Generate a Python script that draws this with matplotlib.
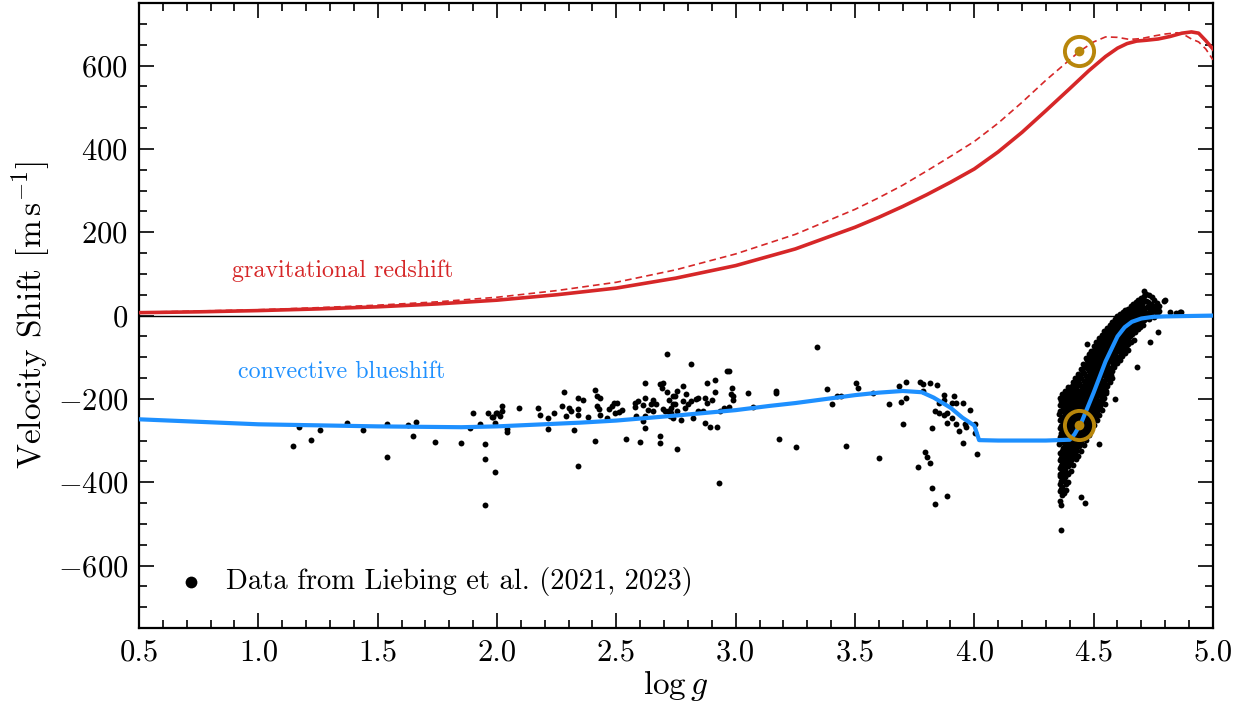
import matplotlib
matplotlib.use("Agg")
import matplotlib.pyplot as plt
from matplotlib.ticker import MultipleLocator, FormatStrFormatter

plt.rcParams['font.family'] = ['cmr10', 'DejaVu Serif']
plt.rcParams['mathtext.fontset'] = 'cm'
plt.rcParams['axes.formatter.use_mathtext'] = True

# gravitational redshift (solid and dashed models)
red_solid_logg = [0.5, 0.75, 1.0, 1.25, 1.5, 1.75, 2.0, 2.25, 2.5, 2.75, 3.0, 3.25, 3.5, 3.6,
                  3.7, 3.8, 3.9, 4.0, 4.1, 4.2, 4.3, 4.4, 4.48, 4.55, 4.6, 4.64, 4.68, 4.72,
                  4.77, 4.82, 4.87, 4.91, 4.94, 4.97, 5.0]
red_solid_v = [7, 9, 12, 16, 21, 28, 37, 50, 66, 90, 120, 160, 212, 236,
               262, 290, 320, 352, 393, 440, 492, 545, 588, 622, 642, 653, 659, 661,
               664, 670, 678, 681, 678, 660, 640]
red_dash_logg = [0.5, 0.75, 1.0, 1.25, 1.5, 1.75, 2.0, 2.25, 2.5, 2.75, 3.0, 3.25, 3.5, 3.6,
                 3.7, 3.8, 3.9, 4.0, 4.1, 4.2, 4.3, 4.44, 4.5, 4.55, 4.6, 4.65, 4.7, 4.75,
                 4.8, 4.85, 4.88, 4.91, 4.94, 4.97, 5.0]
red_dash_v = [8, 11, 14, 19, 25, 33, 44, 60, 80, 110, 148, 195, 255, 283,
              313, 347, 382, 418, 462, 512, 565, 634, 657, 669, 668, 663, 665, 671,
              676, 679, 674, 664, 657, 640, 614]

# convective blueshift model
blue_logg = [0.5, 1.0, 1.5, 1.85, 2.0, 2.35, 2.5, 2.75, 3.0, 3.14, 3.25, 3.5, 3.6, 3.7,
             3.78, 3.83, 3.9, 3.95, 4.0, 4.02, 4.1, 4.2, 4.3, 4.4, 4.42, 4.45, 4.5,
             4.55, 4.6, 4.63, 4.66, 4.7, 4.75, 4.8, 4.9, 5.0]
blue_v = [-249, -261, -266, -268, -266, -257, -252, -240, -227, -217, -210, -191, -185, -181,
          -184, -197, -221, -245, -264, -299, -300, -300, -300, -298, -285, -255, -185,
          -110, -50, -28, -15, -7, -3, -2, -1, 0]

# Sun
sun_logg = [4.438, 4.438]
sun_v = [634, -262]

# Liebing et al. giants
giants_logg = [1.146, 1.169, 1.219, 1.258, 1.370, 1.440, 1.538, 1.538, 1.628, 1.649, 1.659,
               1.739, 1.850, 1.887, 1.898, 1.929, 1.951, 1.951, 1.961, 1.979, 1.990, 1.990,
               1.951, 1.999, 1.982, 1.996, 2.012, 2.021, 2.021, 2.041, 2.041, 2.091, 2.172,
               2.181, 2.212, 2.212, 2.239, 2.271, 2.281, 2.290, 2.300, 2.311, 2.321, 2.339,
               2.339, 2.339, 2.362, 2.341, 2.381, 2.412, 2.412, 2.420, 2.420, 2.426, 2.431,
               2.431, 2.459, 2.470, 2.480, 2.490, 2.501, 2.493, 2.512, 2.522, 2.540, 2.579,
               2.579, 2.581, 2.591, 2.600, 2.610, 2.613, 2.620, 2.621, 2.621, 2.621, 2.632,
               2.644, 2.652, 2.655, 2.666, 2.681, 2.681, 2.681, 2.690, 2.697, 2.694, 2.703,
               2.712, 2.713, 2.718, 2.722, 2.728, 2.739, 2.746, 2.753, 2.753, 2.753, 2.731,
               2.739, 2.725, 2.739, 2.745, 2.772, 2.781, 2.781, 2.788, 2.792, 2.802, 2.812,
               2.812, 2.823, 2.834, 2.843, 2.843, 2.862, 2.871, 2.871, 2.881, 2.881, 2.892,
               2.902, 2.912, 2.912, 2.923, 2.931, 2.934, 2.951, 2.962, 2.973, 2.973, 2.979,
               2.983, 2.987, 2.990, 3.050, 3.071, 3.171, 3.171, 3.181, 3.253, 3.342, 3.381,
               3.404, 3.423, 3.440, 3.462, 3.504, 3.514, 3.574, 3.602, 3.644, 3.683, 3.693,
               3.702, 3.714, 3.714, 3.764, 3.772, 3.784, 3.784, 3.793, 3.803, 3.814, 3.814,
               3.824, 3.824, 3.834, 3.834, 3.843, 3.853, 3.853, 3.874, 3.874, 3.874, 3.884,
               3.884, 3.884, 3.905, 3.905, 3.915, 3.923, 3.923, 3.934, 3.953, 3.953, 3.962,
               3.965, 3.983, 4.004, 4.001, 4.013]
giants_v = [-314, -267, -299, -275, -259, -275, -261, -340, -263, -290, -256,
            -303, -306, -271, -235, -261, -308, -345, -235, -243, -259, -376,
            -455, -235, -243, -233, -241, -218, -229, -273, -279, -221, -222,
            -238, -247, -273, -234, -218, -183, -241, -223, -230, -275, -198,
            -225, -239, -202, -361, -244, -178, -300, -194, -218, -225, -198,
            -239, -245, -225, -217, -209, -210, -234, -231, -227, -296, -210,
            -219, -241, -206, -303, -253, -214, -161, -198, -241, -270, -227,
            -213, -202, -228, -213, -165, -288, -307, -173, -163, -225, -229,
            -92, -184, -229, -203, -221, -193, -213, -181, -321, -229, -233,
            -245, -241, -213, -193, -251, -169, -205, -221, -189, -213, -116,
            -205, -245, -201, -197, -229, -229, -198, -257, -163, -209, -267,
            -202, -155, -183, -267, -403, -230, -222, -133, -133, -219, -189,
            -175, -203, -193, -186, -219, -181, -186, -296, -315, -76, -176,
            -212, -193, -193, -312, -161, -173, -186, -343, -212, -169, -208,
            -261, -160, -198, -364, -160, -165, -181, -327, -340, -163, -355,
            -270, -413, -230, -452, -166, -211, -235, -191, -202, -239, -234,
            -259, -434, -210, -247, -194, -210, -261, -277, -211, -305, -261,
            -267, -227, -260, -282, -333]

# Liebing et al. dwarfs (dense cluster near the Sun), one line per strip of log g
dwarfs_logg = [
    4.357, 4.359, 4.356, 4.358, 4.357, 4.359, 4.356, 4.358, 4.357, 4.359, 4.357, 4.358, 4.360, 4.358,
    4.369, 4.366, 4.370, 4.367, 4.369, 4.365, 4.368, 4.371, 4.366, 4.369, 4.367, 4.370, 4.366, 4.368,
    4.380, 4.377, 4.381, 4.378, 4.380, 4.376, 4.382, 4.378, 4.380, 4.377, 4.381, 4.379, 4.384,
    4.391, 4.388, 4.392, 4.389, 4.391, 4.387, 4.393, 4.389, 4.391, 4.388, 4.392, 4.394,
    4.402, 4.399, 4.403, 4.400, 4.402, 4.398, 4.404, 4.400, 4.402, 4.399, 4.405,
    4.413, 4.410, 4.414, 4.411, 4.413, 4.409, 4.415, 4.411, 4.413, 4.410, 4.414,
    4.424, 4.421, 4.425, 4.422, 4.424, 4.420, 4.426, 4.422, 4.424, 4.421, 4.425,
    4.435, 4.432, 4.436, 4.433, 4.435, 4.431, 4.437, 4.433, 4.435, 4.432, 4.436,
    4.446, 4.443, 4.447, 4.444, 4.446, 4.442, 4.448, 4.444, 4.446, 4.443, 4.447,
    4.457, 4.454, 4.458, 4.455, 4.457, 4.453, 4.459, 4.455, 4.457, 4.454, 4.458,
    4.468, 4.465, 4.469, 4.466, 4.468, 4.464, 4.470, 4.466, 4.468, 4.465, 4.469,
    4.479, 4.476, 4.480, 4.477, 4.479, 4.475, 4.481, 4.477, 4.479, 4.476, 4.480,
    4.490, 4.487, 4.491, 4.488, 4.490, 4.486, 4.492, 4.488, 4.490, 4.487, 4.491,
    4.501, 4.498, 4.502, 4.499, 4.501, 4.497, 4.503, 4.499, 4.501, 4.498, 4.502,
    4.512, 4.509, 4.513, 4.510, 4.512, 4.508, 4.514, 4.510, 4.512, 4.509, 4.513,
    4.523, 4.520, 4.524, 4.521, 4.523, 4.519, 4.525, 4.521, 4.523, 4.520, 4.524,
    4.534, 4.531, 4.535, 4.532, 4.534, 4.530, 4.536, 4.532, 4.534, 4.531, 4.535,
    4.545, 4.542, 4.546, 4.543, 4.545, 4.541, 4.547, 4.543, 4.545, 4.542, 4.546,
    4.556, 4.553, 4.557, 4.554, 4.556, 4.552, 4.558, 4.554, 4.556, 4.553,
    4.567, 4.564, 4.568, 4.565, 4.567, 4.563, 4.569, 4.565, 4.567,
    4.578, 4.575, 4.579, 4.576, 4.578, 4.574, 4.580, 4.576, 4.578,
    4.589, 4.586, 4.590, 4.587, 4.589, 4.585, 4.591, 4.587,
    4.600, 4.597, 4.601, 4.598, 4.600, 4.596, 4.602, 4.598,
    4.611, 4.608, 4.612, 4.609, 4.611, 4.607, 4.613, 4.609,
    4.622, 4.619, 4.623, 4.620, 4.622, 4.618, 4.624, 4.620,
    4.633, 4.630, 4.634, 4.631, 4.633, 4.629, 4.635, 4.631,
    4.644, 4.641, 4.645, 4.642, 4.644, 4.640, 4.646, 4.642,
    4.655, 4.652, 4.656, 4.653, 4.655, 4.651, 4.657,
    4.666, 4.663, 4.667, 4.664, 4.666, 4.662, 4.668,
    4.677, 4.674, 4.678, 4.675, 4.677, 4.673,
    4.688, 4.685, 4.689, 4.686, 4.688, 4.684,
    4.699, 4.696, 4.700, 4.697, 4.699, 4.695,
    4.710, 4.707, 4.711, 4.708, 4.710, 4.706,
    4.721, 4.718, 4.722, 4.719, 4.721,
    4.732, 4.729, 4.733, 4.730, 4.732,
    4.743, 4.740, 4.744, 4.741,
    4.754, 4.751, 4.755, 4.752,
    4.765, 4.762, 4.766,
    4.776, 4.773,
    4.770, 4.794, 4.800, 4.820, 4.845, 4.862, 4.866, 4.364, 4.445, 4.462, 4.473, 4.711,
    4.523, 4.589, 4.683, 4.736, 4.384, 4.375, 4.392, 4.362]
dwarfs_v = [
    -198, -214, -236, -251, -270, -292, -309, -331, -347, -366, -384, -405, -421, -444,
    -188, -207, -225, -244, -262, -281, -300, -318, -337, -356, -374, -393, -412, -431,
    -182, -203, -219, -240, -258, -276, -295, -314, -332, -349, -370, -388, -404,
    -172, -195, -212, -233, -250, -269, -289, -306, -325, -344, -362, -380,
    -178, -199, -218, -237, -256, -276, -293, -313, -334, -352, -373,
    -160, -183, -204, -222, -243, -262, -281, -300, -321, -340, -358,
    -150, -170, -191, -210, -229, -250, -268, -289, -306, -327, -345,
    -140, -161, -180, -201, -219, -239, -258, -277, -298, -316, -336,
    -128, -150, -168, -190, -208, -228, -247, -266, -285, -305, -324,
    -116, -137, -158, -177, -197, -216, -235, -255, -274, -293, -311,
    -102, -124, -146, -165, -185, -204, -224, -243, -262, -281, -298,
    -92, -113, -133, -154, -172, -192, -212, -231, -250, -268, -287,
    -84, -103, -122, -142, -161, -180, -200, -219, -238, -256, -273,
    -72, -93, -112, -131, -150, -170, -189, -207, -226, -245, -262,
    -63, -82, -101, -120, -139, -158, -177, -196, -215, -233, -250,
    -55, -73, -92, -110, -129, -148, -166, -185, -204, -222, -238,
    -46, -64, -82, -100, -119, -137, -156, -174, -192, -210, -226,
    -38, -56, -73, -91, -109, -127, -145, -163, -181, -198, -213,
    -30, -47, -64, -82, -100, -117, -135, -152, -170, -186,
    -22, -39, -56, -73, -90, -108, -125, -142, -160,
    -15, -32, -48, -65, -82, -99, -116, -133, -150,
    -9, -25, -41, -58, -74, -91, -107, -124,
    -2, -18, -34, -50, -66, -83, -99, -115,
    4, -11, -27, -43, -59, -75, -91, -106,
    9, -5, -21, -36, -52, -68, -83, -98,
    13, -1, -15, -30, -45, -60, -76, -90,
    17, 3, -11, -25, -39, -54, -69, -83,
    22, 7, -7, -21, -35, -49, -63,
    27, 12, -3, -17, -31, -45, -58,
    32, 17, 2, -12, -26, -40,
    38, 22, 7, -7, -21, -33,
    43, 27, 12, -2, -16, -28,
    48, 32, 17, 3, -10, -22,
    53, 36, 21, 7, -6,
    49, 33, 19, 5, -8,
    44, 29, 15, 2,
    38, 23, 10, -4,
    31, 17, 4,
    24, 10,
    -39, 36, 38, 8, 5, 8, 8, -514, -436, -449, -68, 60,
    -309, -200, -123, -64, -418, -425, -400, -455]

# Liebing et al. dwarfs, the densest core of the cluster (between the strips above)
dwarfs_core_logg = [
    4.364, 4.361, 4.365, 4.362, 4.364, 4.360, 4.366, 4.362, 4.364, 4.361, 4.365, 4.363,
    4.375, 4.372, 4.376, 4.373, 4.375, 4.371, 4.377, 4.373, 4.375, 4.372, 4.376, 4.374,
    4.386, 4.383, 4.387, 4.384, 4.386, 4.382, 4.388, 4.384, 4.386, 4.383, 4.387,
    4.397, 4.394, 4.398, 4.395, 4.397, 4.393, 4.399, 4.395, 4.397, 4.394,
    4.408, 4.405, 4.409, 4.406, 4.408, 4.404, 4.410, 4.406, 4.408, 4.405,
    4.419, 4.416, 4.420, 4.417, 4.419, 4.415, 4.421, 4.417, 4.419, 4.416,
    4.430, 4.427, 4.431, 4.428, 4.430, 4.426, 4.432, 4.428, 4.430, 4.427,
    4.441, 4.438, 4.442, 4.439, 4.441, 4.437, 4.443, 4.439, 4.441, 4.438,
    4.452, 4.449, 4.453, 4.450, 4.452, 4.448, 4.454, 4.450, 4.452, 4.449,
    4.463, 4.460, 4.464, 4.461, 4.463, 4.459, 4.465, 4.461, 4.463, 4.460,
    4.474, 4.471, 4.475, 4.472, 4.474, 4.470, 4.476, 4.472, 4.474, 4.471,
    4.485, 4.482, 4.486, 4.483, 4.485, 4.481, 4.487, 4.483, 4.485, 4.482,
    4.496, 4.493, 4.497, 4.494, 4.496, 4.492, 4.498, 4.494, 4.496, 4.493,
    4.507, 4.504, 4.508, 4.505, 4.507, 4.503, 4.509, 4.505, 4.507, 4.504,
    4.518, 4.515, 4.519, 4.516, 4.518, 4.514, 4.520, 4.516, 4.518, 4.515,
    4.529, 4.526, 4.530, 4.527, 4.529, 4.525, 4.531, 4.527, 4.529, 4.526,
    4.540, 4.537, 4.541, 4.538, 4.540, 4.536, 4.542, 4.538, 4.540, 4.537,
    4.551, 4.548, 4.552, 4.549, 4.551, 4.547, 4.553, 4.549, 4.551,
    4.562, 4.559, 4.563, 4.560, 4.562, 4.558, 4.564, 4.560,
    4.573, 4.570, 4.574, 4.571, 4.573, 4.569, 4.575, 4.571,
    4.584, 4.581, 4.585, 4.582, 4.584, 4.580, 4.586,
    4.595, 4.592, 4.596, 4.593, 4.595, 4.591, 4.597,
    4.606, 4.603, 4.607, 4.604, 4.606, 4.602, 4.608,
    4.617, 4.614, 4.618, 4.615, 4.617, 4.613, 4.619,
    4.628, 4.625, 4.629, 4.626, 4.628, 4.624, 4.630,
    4.639, 4.636, 4.640, 4.637, 4.639, 4.635,
    4.650, 4.647, 4.651, 4.648, 4.650, 4.646,
    4.661, 4.658, 4.662, 4.659, 4.661,
    4.672, 4.669, 4.673, 4.670, 4.672,
    4.683, 4.680, 4.684, 4.681,
    4.694, 4.691, 4.695, 4.692,
    4.705, 4.702, 4.706, 4.703]
dwarfs_core_v = [
    -205, -228, -248, -266, -286, -304, -324, -342, -361, -380, -398, -416,
    -196, -214, -232, -250, -268, -288, -306, -325, -343, -362, -381, -398,
    -190, -210, -229, -248, -267, -286, -304, -323, -341, -360, -378,
    -186, -206, -224, -245, -263, -282, -300, -319, -338, -356,
    -170, -192, -212, -232, -251, -270, -290, -309, -328, -347,
    -163, -182, -200, -219, -239, -258, -276, -296, -315, -334,
    -153, -172, -190, -209, -229, -248, -267, -286, -305, -324,
    -142, -161, -180, -199, -218, -237, -256, -275, -294, -312,
    -130, -149, -168, -187, -206, -225, -244, -263, -282, -300,
    -118, -137, -156, -175, -194, -213, -232, -251, -270, -288,
    -106, -125, -144, -163, -182, -201, -220, -239, -258, -276,
    -96, -114, -132, -151, -170, -189, -208, -227, -245, -263,
    -86, -104, -122, -141, -160, -179, -197, -216, -235, -252,
    -76, -94, -112, -130, -149, -167, -186, -204, -223, -240,
    -67, -85, -103, -121, -139, -157, -175, -194, -212, -229,
    -58, -76, -94, -112, -130, -148, -166, -184, -202, -218,
    -50, -67, -85, -103, -121, -139, -156, -174, -191, -206,
    -42, -59, -77, -94, -112, -129, -146, -164, -180,
    -34, -51, -68, -85, -102, -119, -136, -153,
    -26, -43, -60, -77, -94, -110, -127, -143,
    -19, -35, -52, -68, -85, -101, -118,
    -12, -28, -44, -61, -77, -93, -109,
    -6, -22, -38, -54, -70, -86, -101,
    0, -16, -32, -47, -63, -79, -93,
    5, -10, -25, -41, -56, -71, -86,
    10, -5, -20, -35, -50, -65,
    14, 0, -14, -28, -43, -57,
    19, 4, -10, -24, -38,
    24, 9, -5, -19, -33,
    29, 14, 0, -14,
    34, 19, 4, -10,
    40, 24, 9, -5]

RED = '#d62728'
BLUE = '#1e90ff'
GOLD = '#b8860b'

fig = plt.figure(figsize=(12.47, 7.06), dpi=100)
ax = fig.add_axes([0.1115, 0.1105, 0.8612, 0.885])

ax.axhline(0, color='black', lw=1.0, zorder=1)
ax.scatter(giants_logg + dwarfs_logg + dwarfs_core_logg,
           giants_v + dwarfs_v + dwarfs_core_v, s=18, color='black',
           lw=0, zorder=2, label='Data from Liebing et al. (2021, 2023)')
ax.plot(red_solid_logg, red_solid_v, color=RED, lw=2.6, zorder=3)
ax.plot(red_dash_logg, red_dash_v, color=RED, lw=1.2, ls=(0, (4, 2.5)), zorder=3)
ax.plot(blue_logg, blue_v, color=BLUE, lw=3.0, zorder=4)
ax.plot(sun_logg, sun_v, ls='none', marker='o', ms=21, mfc='none', mec=GOLD, mew=2.8, zorder=5)
ax.plot(sun_logg, sun_v, ls='none', marker='o', ms=6, color=GOLD, zorder=5)

ax.text(0.89, 108, 'gravitational redshift', color=RED, fontsize=17.3, va='center')
ax.text(0.915, -135, 'convective blueshift', color=BLUE, fontsize=17.3, va='center')

ax.set_xlim(0.5, 5.0)
ax.set_ylim(-750, 750)
ax.xaxis.set_major_locator(MultipleLocator(0.5))
ax.xaxis.set_minor_locator(MultipleLocator(0.1))
ax.yaxis.set_major_locator(MultipleLocator(200))
ax.yaxis.set_minor_locator(MultipleLocator(50))
ax.xaxis.set_major_formatter(FormatStrFormatter('%.1f'))
ax.tick_params(which='both', direction='in', top=True, right=True, labelsize=22, width=1.2)
ax.tick_params(which='major', length=11, pad=8)
ax.tick_params(which='minor', length=5.5)
for sp in ax.spines.values():
    sp.set_linewidth(1.6)

ax.set_xlabel(r'$\log g$', fontsize=24, labelpad=1)
ax.set_ylabel(r'Velocity Shift [$\mathrm{m\,s^{-1}}$]', fontsize=24, labelpad=4)

ax.legend(loc='lower left', bbox_to_anchor=(0.0, 0.005), frameon=False, fontsize=20.6,
          markerscale=2.0, handletextpad=0.45, borderaxespad=0.6, handlelength=1.6)

fig.savefig('out.png', dpi=100)
